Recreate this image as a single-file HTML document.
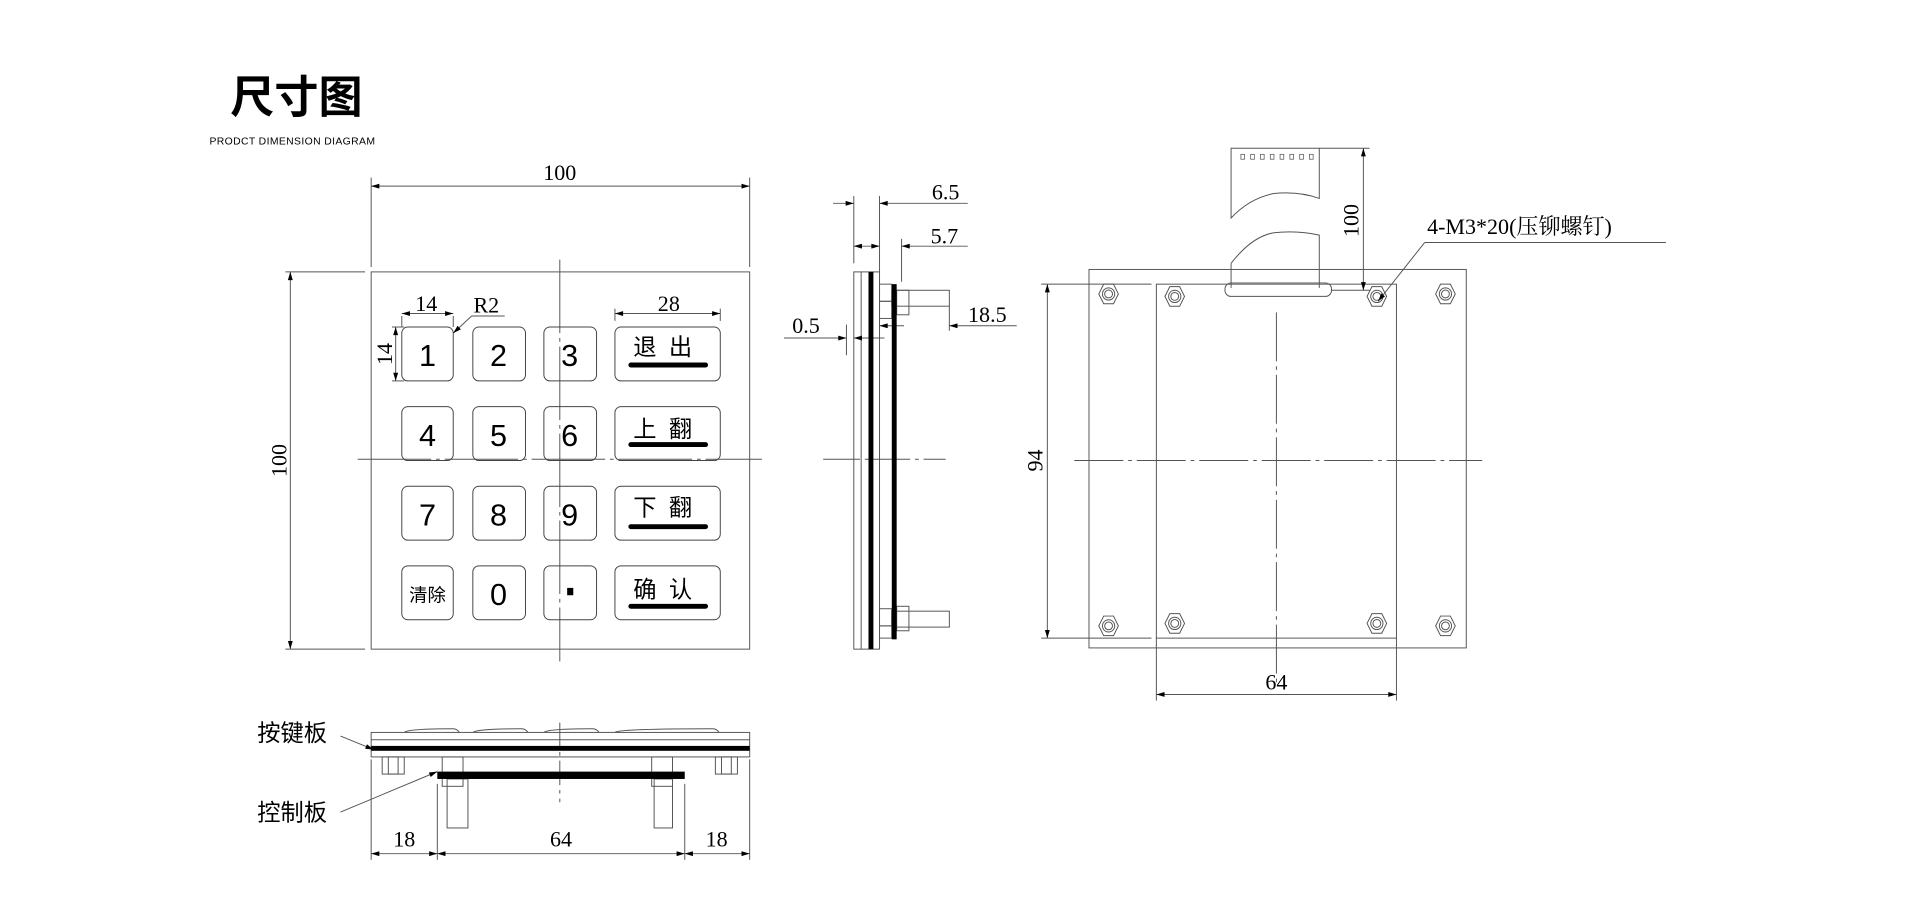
<!DOCTYPE html>
<html><head><meta charset="utf-8"><style>
html,body{margin:0;padding:0;background:#fff;width:1920px;height:899px;overflow:hidden}
svg{display:block}
text{font-family:"Liberation Serif","Noto Serif CJK SC",serif;fill:#000}
.s{font-family:"Liberation Sans","Noto Sans CJK SC",sans-serif}
</style></head><body>
<svg width="1920" height="899" viewBox="0 0 1567.4 734" preserveAspectRatio="none" xmlns="http://www.w3.org/2000/svg">
<defs>
<marker id="a" viewBox="0 0 10 6" refX="10" refY="3" markerWidth="9" markerHeight="4" orient="auto-start-reverse" markerUnits="userSpaceOnUse"><path d="M0,0L10,3L0,6z" fill="#000"/></marker>
</defs>
<rect width="1567.4" height="734" fill="#fff"/>
<text x="188" y="92" class="s" font-size="36" font-weight="bold">尺寸图</text>
<text x="171" y="118" class="s" font-size="8.5" letter-spacing="0.3">PRODCT DIMENSION DIAGRAM</text>

<g stroke="#555" stroke-width="0.8" fill="none">
<rect x="303" y="222" width="309" height="308"/>
<line x1="457" y1="212" x2="457" y2="540" stroke-dasharray="60 4 3 4"/>
<line x1="292" y1="375" x2="622" y2="375" stroke-dasharray="60 4 3 4"/>
<g stroke="#444">
<rect x="328" y="267" width="42" height="44" rx="5"/><rect x="386" y="267" width="43" height="44" rx="5"/><rect x="444" y="267" width="43" height="44" rx="5"/><rect x="502" y="267" width="86" height="44" rx="5"/>
<rect x="328" y="332" width="42" height="44" rx="5"/><rect x="386" y="332" width="43" height="44" rx="5"/><rect x="444" y="332" width="43" height="44" rx="5"/><rect x="502" y="332" width="86" height="44" rx="5"/>
<rect x="328" y="397" width="42" height="44" rx="5"/><rect x="386" y="397" width="43" height="44" rx="5"/><rect x="444" y="397" width="43" height="44" rx="5"/><rect x="502" y="397" width="86" height="44" rx="5"/>
<rect x="328" y="462" width="42" height="44" rx="5"/><rect x="386" y="462" width="43" height="44" rx="5"/><rect x="444" y="462" width="43" height="44" rx="5"/><rect x="502" y="462" width="86" height="44" rx="5"/>
</g>
<line x1="303" y1="145" x2="303" y2="218"/><line x1="612" y1="145" x2="612" y2="218"/>
<line x1="303" y1="152" x2="612" y2="152" marker-start="url(#a)" marker-end="url(#a)"/>
<line x1="233" y1="222" x2="298" y2="222"/><line x1="233" y1="530" x2="298" y2="530"/>
<line x1="237" y1="222" x2="237" y2="530" marker-start="url(#a)" marker-end="url(#a)"/>
<line x1="328" y1="258" x2="328" y2="267"/><line x1="370" y1="258" x2="370" y2="267"/>
<line x1="328" y1="256" x2="370" y2="256" marker-start="url(#a)" marker-end="url(#a)"/>
<line x1="385" y1="258" x2="412" y2="258"/><line x1="385" y1="258" x2="370" y2="272" marker-end="url(#a)"/>
<line x1="320" y1="267" x2="330" y2="267"/><line x1="320" y1="311" x2="330" y2="311"/>
<line x1="323" y1="267" x2="323" y2="311" marker-start="url(#a)" marker-end="url(#a)"/>
<line x1="502" y1="252" x2="502" y2="262"/><line x1="588" y1="252" x2="588" y2="262"/>
<line x1="502" y1="256" x2="588" y2="256" marker-start="url(#a)" marker-end="url(#a)"/>

<rect x="697" y="222" width="21" height="308"/>
<line x1="703" y1="222" x2="703" y2="530"/>
<line x1="672" y1="375" x2="772" y2="375" stroke-dasharray="30 4 3 4"/>
<rect x="718" y="232" width="10" height="14"/><rect x="718" y="246" width="10" height="14"/>
<rect x="728" y="237" width="47" height="13"/><rect x="732" y="237" width="10" height="20"/>
<rect x="718" y="497" width="10" height="14"/><rect x="718" y="511" width="10" height="10"/>
<rect x="728" y="499" width="47" height="13"/><rect x="732" y="495" width="10" height="20"/>
<line x1="697" y1="160" x2="697" y2="215"/><line x1="718" y1="160" x2="718" y2="270"/><line x1="736" y1="195" x2="736" y2="230"/>
<line x1="680" y1="166" x2="697" y2="166" marker-end="url(#a)"/><line x1="790" y1="166" x2="718" y2="166" marker-end="url(#a)"/>
<line x1="697" y1="201" x2="718" y2="201" marker-start="url(#a)" marker-end="url(#a)"/><line x1="790" y1="201" x2="736" y2="201" marker-end="url(#a)"/>
<line x1="640" y1="276" x2="691" y2="276" marker-end="url(#a)"/><line x1="722" y1="276" x2="697" y2="276" marker-end="url(#a)"/>
<line x1="775" y1="250" x2="775" y2="270"/>
<line x1="718" y1="266" x2="738" y2="266" marker-start="url(#a)"/><line x1="830" y1="266" x2="775" y2="266" marker-end="url(#a)"/>
<line x1="691" y1="265" x2="691" y2="290"/>

<rect x="303" y="598" width="309" height="20"/>
<line x1="303" y1="604" x2="612" y2="604"/>
<path d="M330 598 q3-3 40-3 q3 0 5 3 M386 598 q3-3 40-3 q3 0 5 3 M444 598 q3-3 40-3 q3 0 5 3 M502 598 q3-3 80-3 q3 0 5 3"/>
<rect x="312" y="618" width="18" height="14"/><rect x="317" y="618" width="8" height="14"/>
<rect x="584" y="618" width="18" height="14"/><rect x="589" y="618" width="8" height="14"/>
<rect x="361" y="618" width="17" height="24"/><rect x="365" y="636" width="17" height="40"/>
<rect x="532" y="618" width="17" height="24"/><rect x="534" y="636" width="15" height="40"/>
<line x1="457" y1="590" x2="457" y2="655" stroke-dasharray="20 4 3 4"/>
<line x1="303" y1="620" x2="303" y2="702"/><line x1="357" y1="640" x2="357" y2="702"/><line x1="559" y1="640" x2="559" y2="702"/><line x1="612" y1="620" x2="612" y2="702"/>
<line x1="303" y1="697" x2="357" y2="697" marker-start="url(#a)" marker-end="url(#a)"/>
<line x1="357" y1="697" x2="559" y2="697" marker-start="url(#a)" marker-end="url(#a)"/>
<line x1="559" y1="697" x2="612" y2="697" marker-start="url(#a)" marker-end="url(#a)"/>
<line x1="278" y1="601" x2="305" y2="612" marker-end="url(#a)"/>
<line x1="278" y1="663" x2="357" y2="630" marker-end="url(#a)"/>

<rect x="889" y="220" width="308" height="309"/>
<rect x="944" y="232" width="196" height="289"/>
<line x1="1042" y1="255" x2="1042" y2="560" stroke-dasharray="40 4 3 4"/>
<line x1="877" y1="376" x2="1210" y2="376" stroke-dasharray="40 4 3 4"/>
<path d="M1005 121 H1077 V162 Q1060 156 1040 158 Q1020 162 1005 178 Z"/>
<path d="M1005 215 Q1022 193 1040 190 Q1060 188 1077 192 V235 M1005 215 V235"/>
<rect x="1000" y="231" width="87" height="11" rx="5"/>
<g stroke-width="0.6"><rect x="1013" y="126" width="3" height="4"/><rect x="1021" y="126" width="3" height="4"/><rect x="1029" y="126" width="3" height="4"/><rect x="1037" y="126" width="3" height="4"/><rect x="1045" y="126" width="3" height="4"/><rect x="1053" y="126" width="3" height="4"/><rect x="1061" y="126" width="3" height="4"/><rect x="1069" y="126" width="3" height="4"/></g>
<g>
<path d="M897 240 l4-8 h8 l4 8 l-4 8 h-8z"/><circle cx="905" cy="240" r="5"/><circle cx="905" cy="240" r="3.2"/>
<path d="M951 242 l4-8 h8 l4 8 l-4 8 h-8z"/><circle cx="959" cy="242" r="5"/><circle cx="959" cy="242" r="3.2"/>
<path d="M1116 242 l4-8 h8 l4 8 l-4 8 h-8z"/><circle cx="1124" cy="242" r="5"/><circle cx="1124" cy="242" r="3.2"/>
<path d="M1172 240 l4-8 h8 l4 8 l-4 8 h-8z"/><circle cx="1180" cy="240" r="5"/><circle cx="1180" cy="240" r="3.2"/>
<path d="M897 511 l4-8 h8 l4 8 l-4 8 h-8z"/><circle cx="905" cy="511" r="5"/><circle cx="905" cy="511" r="3.2"/>
<path d="M951 509 l4-8 h8 l4 8 l-4 8 h-8z"/><circle cx="959" cy="509" r="5"/><circle cx="959" cy="509" r="3.2"/>
<path d="M1116 509 l4-8 h8 l4 8 l-4 8 h-8z"/><circle cx="1124" cy="509" r="5"/><circle cx="1124" cy="509" r="3.2"/>
<path d="M1172 511 l4-8 h8 l4 8 l-4 8 h-8z"/><circle cx="1180" cy="511" r="5"/><circle cx="1180" cy="511" r="3.2"/>
</g>
<line x1="1077" y1="121" x2="1118" y2="121"/><line x1="1087" y1="237" x2="1118" y2="237"/>
<line x1="1113" y1="121" x2="1113" y2="237" marker-start="url(#a)" marker-end="url(#a)"/>
<line x1="850" y1="232" x2="940" y2="232"/><line x1="850" y1="521" x2="940" y2="521"/>
<line x1="855" y1="232" x2="855" y2="521" marker-start="url(#a)" marker-end="url(#a)"/>
<line x1="944" y1="521" x2="944" y2="572"/><line x1="1140" y1="521" x2="1140" y2="572"/>
<line x1="944" y1="567" x2="1140" y2="567" marker-start="url(#a)" marker-end="url(#a)"/>
<line x1="1163" y1="198" x2="1360" y2="198"/><line x1="1163" y1="198" x2="1125" y2="246" marker-end="url(#a)"/>
</g>

<g fill="#000">
<rect x="709" y="222" width="4" height="308"/>
<rect x="728" y="232" width="4" height="290"/>
<rect x="303" y="609" width="309" height="4"/>
<rect x="357" y="630" width="202" height="6"/>
<rect x="513" y="296" width="65" height="4" rx="2"/><rect x="513" y="361" width="65" height="4" rx="2"/><rect x="513" y="428" width="65" height="4" rx="2"/><rect x="513" y="493" width="65" height="4" rx="2"/>
<rect x="463" y="480" width="5" height="6"/>
</g>

<g class="s" font-size="25" text-anchor="middle">
<text x="349" y="299" class="s">1</text><text x="407" y="299" class="s">2</text><text x="465" y="299" class="s">3</text>
<text x="349" y="364" class="s">4</text><text x="407" y="364" class="s">5</text><text x="465" y="364" class="s">6</text>
<text x="349" y="429" class="s">7</text><text x="407" y="429" class="s">8</text><text x="465" y="429" class="s">9</text>
<text x="407" y="494" class="s">0</text>
</g>
<text x="349" y="491" class="s" font-size="15" text-anchor="middle">清除</text>
<g class="s" font-size="19" text-anchor="middle">
<text x="546" y="290" class="s" letter-spacing="10">退出</text>
<text x="546" y="357" class="s" letter-spacing="10">上翻</text>
<text x="546" y="421" class="s" letter-spacing="10">下翻</text>
<text x="546" y="488" class="s" letter-spacing="10">确认</text>
</g>
<g font-size="18" text-anchor="middle">
<text x="457" y="147">100</text>
<text transform="translate(234,376) rotate(-90)">100</text>
<text x="348" y="254">14</text>
<text x="397" y="255">R2</text>
<text transform="translate(320,289) rotate(-90)">14</text>
<text x="546" y="254">28</text>
<text x="772" y="163">6.5</text>
<text x="771" y="199">5.7</text>
<text x="658" y="272">0.5</text>
<text x="806" y="263">18.5</text>
<text x="330" y="691">18</text>
<text x="458" y="691">64</text>
<text x="585" y="691">18</text>
<text transform="translate(1109,180) rotate(-90)">100</text>
<text transform="translate(851,376) rotate(-90)">94</text>
<text x="1042" y="563">64</text>
<text x="1165" y="191" text-anchor="start">4-M3*20(压铆螺钉)</text>
</g>
<text x="210" y="605" class="s" font-size="19">按键板</text>
<text x="210" y="670" class="s" font-size="19">控制板</text>
</svg>
</body></html>
